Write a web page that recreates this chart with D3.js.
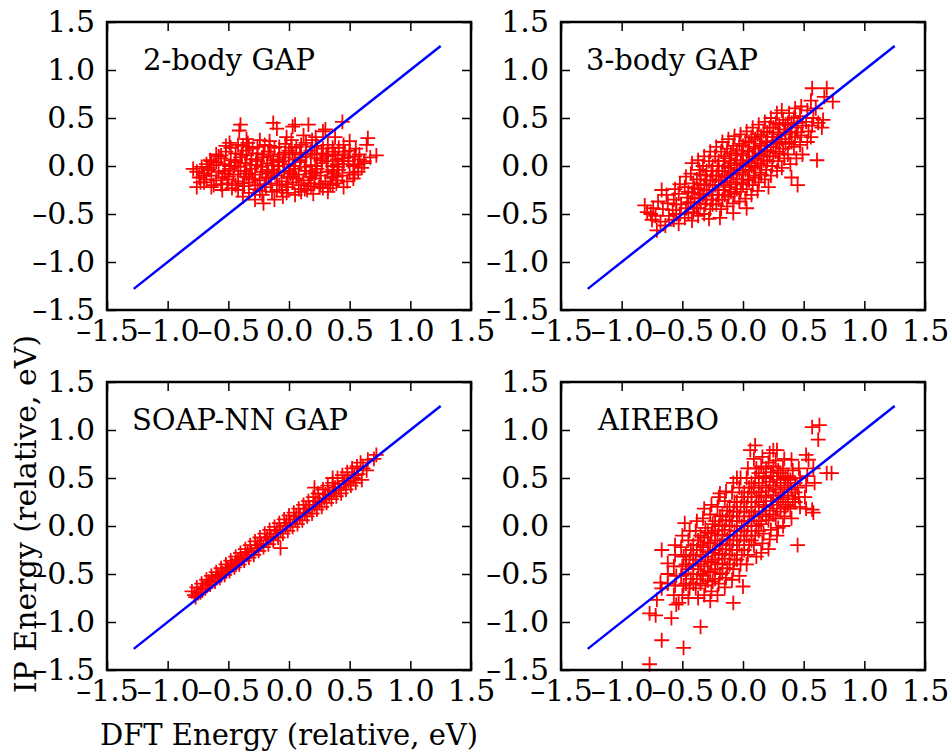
<!DOCTYPE html>
<html>
<head>
<meta charset="utf-8">
<script src="https://cdn.jsdelivr.net/npm/d3@7"></script>
<style>
  body { margin: 0; background: #fff; }
  text { font-family: 'DejaVu Serif', serif; fill: #000; }
</style>
</head>
<body>
<svg id="chart" width="949" height="751"></svg>
<script>
// values (DFT energy, IP energy), eV
const gap2Pts = [
  [-.40,.43],[-.41,.37],[-.13,.45],[.05,.43],[.16,.43],[.44,.46],[.30,.38],[-.10,.39],[.03,.41],[.28,.36],
  [.65,.29],[.72,.11],[.64,.22],[.57,-.06],[.60,-.02],[.55,.18],[.50,.26],[.62,.05],[.58,.12],
  [-.79,-.03],[-.73,-.17],[-.76,-.22],[-.65,.06],[-.70,-.10],[-.62,-.20],[-.68,.02],[-.58,.10],[-.55,-.25],
  [-.21,-.39],[-.05,-.32],[-.38,-.32],[.15,-.25],[.32,-.27],[.45,-.22],[-.28,-.35],[.05,-.30],[-.12,-.35],[.25,-.22],[.40,-.15],
  [-.49,.24],[-.24,.27],[-.42,.22],[-.35,.28],[.22,.30],[.12,.32],[-.02,.30],[.38,.30],[.45,.22],
  [-.48,.19],[-.38,.21],[-.30,.18],[-.20,.22],[-.12,.19],[-.03,.23],[.06,.20],[.14,.24],[.23,.21],[.32,.22],[.41,.19],[.50,.16],
  [-.60,.12],[-.52,.15],[-.44,.13],[-.35,.16],[-.26,.13],[-.17,.15],[-.08,.12],[0,.16],[.09,.14],[.18,.16],[.27,.13],[.36,.15],[.45,.12],[.54,.10],
  [-.64,.05],[-.56,.08],[-.48,.06],[-.40,.09],[-.31,.07],[-.22,.09],[-.13,.06],[-.04,.09],[.05,.07],[.14,.10],[.23,.08],[.31,.10],[.40,.07],[.49,.05],[.58,.07],[.67,.09],
  [-.72,-.01],[-.62,.01],[-.53,.02],[-.45,0],[-.36,.03],[-.27,.01],[-.18,.03],[-.09,0],[0,.02],[.09,.04],[.18,.01],[.27,.03],[.36,0],[.45,.02],[.53,0],
  [-.76,-.06],[-.66,-.04],[-.58,-.06],[-.49,-.03],[-.40,-.05],[-.31,-.03],[-.22,-.06],[-.13,-.04],[-.04,-.06],[.05,-.03],[.14,-.05],[.23,-.03],[.32,-.06],[.41,-.04],[.50,-.07],
  [-.74,-.12],[-.64,-.10],[-.55,-.12],[-.46,-.09],[-.37,-.11],[-.28,-.09],[-.19,-.12],[-.10,-.10],[-.01,-.12],[.08,-.09],[.17,-.11],[.26,-.10],[.35,-.12],[.44,-.10],[.53,-.13],
  [-.70,-.17],[-.60,-.15],[-.51,-.18],[-.42,-.16],[-.33,-.17],[-.24,-.15],[-.15,-.18],[-.06,-.16],[.03,-.17],[.12,-.15],[.21,-.18],[.30,-.16],[.39,-.18],
  [-.64,-.22],[-.47,-.23],[-.37,-.21],[-.28,-.24],[-.19,-.22],[-.10,-.25],[-.01,-.22],[.08,-.24],[.18,-.21],[.28,-.23],[.36,-.20],
  [-.33,-.28],[-.22,-.30],[-.14,-.27],[-.02,-.28],[.10,-.27],[.20,-.29],
  [-.35,.11],[-.15,.10],[.03,.12],[.21,.12],[.38,.11],[-.42,-.01],[-.23,-.01],[-.05,.05],[.13,-.01],[.31,.05],
  [-.30,-.14],[-.12,-.07],[.06,-.13],[.22,-.07],[.40,.02],[-.50,-.14],[-.08,.20],[.28,.18],[.10,.22],[-.26,.20],
  [-.34,.24],[-.16,.26],[.02,.27],[.19,.27],[-.44,.04],[-.26,.05],[-.08,.04],[.10,.09],[.27,.08],[.44,.05],
  [-.53,-.08],[-.35,-.08],[-.17,-.08],[.01,-.08],[.19,-.08],[.37,-.08],[-.44,-.20],[-.26,-.20],[-.08,-.20],[.10,-.20],[.26,-.19],
  [-.56,.11],[-.39,.12],[-.21,.12],[-.03,.14],[.14,.13],[.32,.12],[.49,.09],
  [-.60,.04],[-.44,.06],[-.27,.07],[-.09,.07],[.09,.06],[.27,.06],[.45,.08],[.62,.03],
  [-.67,-.02],[-.49,0],[-.32,.01],[-.14,.01],[.04,0],[.22,0],[.40,-.01],[.57,.02],
  [-.70,-.08],[-.53,-.05],[-.36,-.05],[-.18,-.04],[0,-.05],[.18,-.05],[.36,-.04],[.54,-.09],
  [-.68,-.14],[-.50,-.11],[-.33,-.12],[-.15,-.13],[.03,-.11],[.21,-.13],[.39,-.11],[.48,-.16],
  [-.56,-.19],[-.38,-.18],[-.20,-.19],[-.02,-.19],[.16,-.18],[.34,-.19],
  [-.42,-.25],[-.24,-.26],[-.06,-.25],[.13,-.24],[.32,-.23],
  [-.52,.21],[-.33,.20],[-.16,.21],[.02,.19],[.19,.20],[.36,.19],[.46,.15]
];
const gap3Pts = [
  [-.81,-.41],[-.79,-.48],[-.75,-.56],[-.74,-.44],[-.76,-.50],[-.71,-.67],[-.70,-.37],[-.72,-.52],
  [-.67,-.25],[-.66,-.45],[-.68,-.58],[-.62,-.39],[-.63,-.30],[-.61,-.52],[-.64,-.62],
  [-.57,-.35],[-.58,-.46],[-.56,-.24],[-.57,-.56],[-.52,-.19],[-.53,-.29],[-.51,-.40],[-.52,-.50],[-.53,-.60],
  [-.47,-.11],[-.48,-.22],[-.46,-.33],[-.47,-.44],[-.48,-.54],
  [-.42,.03],[-.43,-.08],[-.41,-.18],[-.42,-.28],[-.43,-.38],[-.41,-.48],[-.42,-.57],
  [-.37,.06],[-.36,-.04],[-.38,-.14],[-.37,-.24],[-.36,-.34],[-.38,-.44],[-.37,-.52],
  [-.32,.10],[-.33,0],[-.31,-.10],[-.32,-.20],[-.33,-.30],[-.31,-.40],[-.32,-.50],
  [-.27,.15],[-.28,.05],[-.26,-.05],[-.27,-.15],[-.28,-.25],[-.26,-.35],[-.27,-.45],[-.28,-.55],
  [-.22,.20],[-.23,.10],[-.21,0],[-.22,-.10],[-.23,-.20],[-.21,-.30],[-.22,-.40],[-.19,-.54],
  [-.17,.25],[-.18,.15],[-.16,.05],[-.17,-.05],[-.18,-.15],[-.16,-.25],[-.17,-.35],[-.18,-.45],
  [-.12,.28],[-.13,.18],[-.11,.08],[-.12,-.02],[-.13,-.12],[-.11,-.22],[-.12,-.32],[-.13,-.42],
  [-.07,.31],[-.08,.21],[-.06,.11],[-.07,.01],[-.08,-.09],[-.06,-.19],[-.07,-.29],[-.08,-.39],[-.08,-.49],
  [-.02,.33],[-.03,.23],[-.01,.13],[-.02,.03],[-.03,-.07],[-.01,-.17],[-.02,-.27],[-.03,-.37],
  [.03,.36],[.02,.26],[.04,.16],[.03,.06],[.02,-.04],[.04,-.14],[.03,-.24],[.02,-.34],[.03,-.44],
  [.08,.40],[.07,.30],[.09,.20],[.08,.10],[.07,0],[.09,-.10],[.08,-.20],[.07,-.30],
  [.13,.43],[.12,.33],[.14,.23],[.13,.13],[.12,.03],[.14,-.07],[.13,-.17],[.12,-.26],
  [.18,.46],[.17,.36],[.19,.26],[.18,.16],[.17,.06],[.19,-.04],[.18,-.14],[.21,-.22],
  [.23,.50],[.22,.40],[.24,.30],[.23,.20],[.22,.10],[.24,0],[.23,-.10],
  [.28,.55],[.27,.45],[.29,.35],[.28,.25],[.27,.15],[.29,.05],[.28,-.05],
  [.32,.58],[.33,.48],[.34,.38],[.32,.28],[.33,.18],[.34,.08],[.32,-.02],
  [.38,.55],[.37,.45],[.39,.35],[.38,.25],[.37,.12],[.39,.02],[.40,-.12],
  [.43,.60],[.42,.50],[.44,.40],[.43,.30],[.42,.20],[.44,.08],[.45,-.20],
  [.48,.62],[.47,.52],[.49,.42],[.48,.32],[.47,.22],[.49,.12],
  [.53,.58],[.52,.46],[.54,.36],[.53,.25],
  [.57,.81],[.56,.68],[.58,.50],[.57,.42],[.56,.30],
  [.61,.06],[.62,.45],[.60,.60],[.66,.48],[.65,.40],[.67,.72],[.69,.81],[.74,.67],
  [-.55,-.40],[-.55,-.50],[-.45,-.27],[-.45,-.38],[-.45,-.49],[-.40,-.23],[-.40,-.33],[-.40,-.43],
  [-.35,-.09],[-.35,-.19],[-.35,-.29],[-.35,-.39],[-.30,-.05],[-.30,-.15],[-.30,-.25],[-.30,-.35],
  [-.25,0],[-.25,-.10],[-.25,-.20],[-.25,-.30],[-.25,-.40],[-.20,.05],[-.20,-.05],[-.20,-.15],[-.20,-.25],[-.20,-.35],
  [-.15,.10],[-.15,0],[-.15,-.10],[-.15,-.20],[-.15,-.30],[-.10,.13],[-.10,.03],[-.10,-.07],[-.10,-.17],[-.10,-.27],
  [-.05,.16],[-.05,.06],[-.05,-.04],[-.05,-.14],[-.05,-.24],[0,.21],[0,.11],[0,.01],[0,-.09],[0,-.19],
  [.05,.25],[.05,.15],[.05,.05],[.05,-.05],[.05,-.15],[.10,.28],[.10,.18],[.10,.08],[.10,-.02],[.10,-.12],
  [.15,.31],[.15,.21],[.15,.11],[.15,.01],[.15,-.09],[.20,.35],[.20,.25],[.20,.15],[.20,.05],
  [.25,.40],[.25,.30],[.25,.20],[.25,.10],[.30,.43],[.30,.33],[.30,.23],[.30,.13],
  [.35,.43],[.35,.33],[.35,.23],[.40,.45],[.40,.35],[.40,.25],[.45,.45],[.45,.35]
];
const soapPts = [
  [-.80,-.68],[-.78,-.72],[-.76,-.64],[-.75,-.70],[-.77,-.74],[-.72,-.60],[-.71,-.66],[-.73,-.69],
  [-.68,-.56],[-.67,-.61],[-.69,-.65],[-.64,-.52],[-.63,-.57],[-.65,-.61],[-.60,-.48],[-.59,-.53],[-.61,-.58],
  [-.56,-.44],[-.55,-.49],[-.57,-.54],[-.52,-.40],[-.51,-.45],[-.53,-.51],[-.48,-.36],[-.47,-.41],[-.49,-.47],
  [-.44,-.32],[-.43,-.38],[-.45,-.43],[-.40,-.28],[-.39,-.34],[-.41,-.40],[-.36,-.24],[-.35,-.30],[-.37,-.36],
  [-.32,-.20],[-.31,-.27],[-.33,-.33],[-.28,-.16],[-.27,-.23],[-.29,-.30],[-.24,-.12],[-.23,-.19],[-.25,-.26],
  [-.20,-.08],[-.19,-.15],[-.21,-.22],[-.16,-.04],[-.15,-.11],[-.17,-.19],[-.12,-.01],[-.11,-.08],[-.13,-.15],
  [-.08,.03],[-.07,-.04],[-.09,-.12],[-.07,-.23],[-.04,.07],[-.03,0],[-.05,-.08],
  [0,.11],[.01,.03],[-.01,-.05],[.04,.14],[.05,.07],[.03,-.01],[.08,.18],[.09,.10],[.07,.02],
  [.12,.22],[.13,.14],[.11,.06],[.16,.26],[.17,.18],[.15,.10],[.20,.30],[.21,.22],[.19,.13],[.21,.40],
  [.24,.34],[.25,.25],[.23,.17],[.28,.38],[.29,.29],[.27,.20],[.32,.42],[.33,.33],[.31,.24],
  [.36,.50],[.37,.37],[.35,.28],[.36,.45],[.40,.50],[.41,.40],[.39,.31],[.44,.53],[.45,.44],[.43,.34],
  [.48,.56],[.49,.47],[.47,.38],[.52,.60],[.53,.50],[.51,.42],[.56,.62],[.57,.54],[.55,.45],
  [.60,.48],[.61,.60],[.59,.66],[.65,.69],[.64,.58],[.72,.74],[.70,.70],
  [-.66,-.58],[-.58,-.51],[-.50,-.43],[-.42,-.35],[-.34,-.27],[-.26,-.20],[-.18,-.12],[-.10,-.05],
  [-.02,.03],[.06,.10],[.14,.18],[.22,.26],[.30,.33],[.38,.40],[.46,.47],[.54,.53]
];
const aireboPts = [
  [-.62,-.39],[-.62,-.50],[-.62,-.60],
  [-.56,-.20],[-.56,-.30],[-.57,-.42],[-.55,-.52],[-.56,-.62],[-.57,-.72],[-.55,-.82],
  [-.50,-.10],[-.51,-.22],[-.49,-.32],[-.50,-.42],[-.51,-.52],[-.49,-.62],[-.50,-.72],
  [-.44,-.05],[-.45,-.15],[-.43,-.25],[-.44,-.35],[-.45,-.45],[-.43,-.55],[-.44,-.65],[-.45,-.75],
  [-.38,.05],[-.39,-.05],[-.37,-.15],[-.38,-.25],[-.39,-.35],[-.37,-.45],[-.38,-.55],[-.39,-.65],[-.37,-.75],
  [-.32,.18],[-.33,.08],[-.31,-.02],[-.32,-.12],[-.33,-.22],[-.31,-.32],[-.32,-.42],[-.33,-.52],[-.31,-.62],[-.32,-.72],
  [-.26,.22],[-.27,.12],[-.25,.02],[-.26,-.08],[-.27,-.18],[-.25,-.28],[-.26,-.38],[-.27,-.48],[-.25,-.58],[-.26,-.68],[-.27,-.78],
  [-.20,.30],[-.21,.20],[-.19,.10],[-.20,0],[-.21,-.10],[-.19,-.20],[-.20,-.30],[-.21,-.40],[-.19,-.50],[-.20,-.60],[-.21,-.72],
  [-.14,.36],[-.15,.26],[-.13,.16],[-.14,.06],[-.15,-.04],[-.13,-.14],[-.14,-.24],[-.15,-.34],[-.13,-.44],[-.14,-.54],[-.15,-.64],
  [-.08,.45],[-.09,.35],[-.07,.25],[-.08,.15],[-.09,.05],[-.07,-.05],[-.08,-.15],[-.09,-.25],[-.07,-.35],[-.08,-.45],[-.09,-.56],
  [-.02,.50],[-.03,.40],[-.01,.30],[-.02,.20],[-.03,.10],[-.01,0],[-.02,-.10],[-.03,-.20],[-.01,-.30],[-.02,-.40],[-.03,-.52],
  [.04,.60],[.03,.50],[.05,.40],[.04,.30],[.03,.20],[.05,.10],[.04,0],[.03,-.10],[.05,-.20],[.04,-.30],[.03,-.40],
  [.10,.84],[.09,.70],[.11,.60],[.10,.50],[.09,.40],[.11,.30],[.10,.20],[.09,.10],[.11,0],[.10,-.10],[.09,-.20],[.11,-.32],
  [.16,.72],[.15,.62],[.17,.52],[.16,.42],[.15,.32],[.17,.22],[.16,.12],[.15,.02],[.17,-.08],[.16,-.18],[.15,-.28],
  [.22,.76],[.21,.66],[.23,.56],[.22,.46],[.21,.36],[.23,.26],[.22,.16],[.21,.06],[.23,-.04],[.22,-.14],[.21,-.24],
  [.28,.79],[.27,.68],[.29,.58],[.28,.48],[.27,.38],[.29,.28],[.28,.18],[.27,.08],[.29,-.02],[.28,-.10],
  [.34,.70],[.33,.60],[.35,.50],[.34,.40],[.33,.30],[.35,.20],[.34,.10],[.33,0],
  [.40,.69],[.41,.58],[.39,.48],[.40,.38],[.41,.28],[.39,.18],[.40,.08],
  [.46,.60],[.47,.50],[.45,.40],[.46,.30],[.47,.20],
  [.52,.74],[.54,.69],[.53,.52],[.52,.42],[.51,.30],[.52,.18],
  [.58,.60],[.59,.45],[.57,.17],[.58,.14],
  [.57,1.03],[.63,1.05],[.62,.90],[.69,.55],[.73,.55],[.45,-.20],[-.48,.03],[-.67,-.25],
  [-.77,-.91],[-.72,-.93],[-.59,-.96],[-.67,-1.19],[-.49,-1.27],[-.35,-1.05],[-.77,-1.44],
  [-.08,-.80],[0,-.63],[-.67,-.65],[-.71,-.77],[-.53,-.80],[-.68,-.59],[-.19,.34],[-.05,.50],[.06,.79],[.25,.79],
  [-.47,-.30],[-.47,-.40],[-.47,-.50],[-.47,-.60],[-.41,-.20],[-.41,-.30],[-.41,-.40],[-.41,-.50],[-.41,-.60],
  [-.35,-.10],[-.35,-.20],[-.35,-.30],[-.35,-.40],[-.35,-.50],[-.35,-.60],
  [-.29,-.07],[-.29,-.17],[-.29,-.27],[-.29,-.37],[-.29,-.47],[-.29,-.57],
  [-.23,.05],[-.23,-.05],[-.23,-.15],[-.23,-.25],[-.23,-.35],[-.23,-.45],[-.23,-.55],
  [-.17,.11],[-.17,.01],[-.17,-.09],[-.17,-.19],[-.17,-.29],[-.17,-.39],[-.17,-.49],
  [-.11,.20],[-.11,.10],[-.11,0],[-.11,-.10],[-.11,-.20],[-.11,-.30],[-.11,-.40],
  [-.05,.25],[-.05,.15],[-.05,.05],[-.05,-.05],[-.05,-.15],[-.05,-.25],[-.05,-.35],
  [.01,.35],[.01,.25],[.01,.15],[.01,.05],[.01,-.05],[.01,-.15],[.01,-.25],
  [.07,.45],[.07,.35],[.07,.25],[.07,.15],[.07,.05],[.07,-.05],[.07,-.15],
  [.13,.55],[.13,.45],[.13,.35],[.13,.25],[.13,.15],[.13,.05],[.13,-.05],
  [.19,.60],[.19,.50],[.19,.40],[.19,.30],[.19,.20],[.19,.10],
  [.25,.62],[.25,.52],[.25,.42],[.25,.32],[.25,.22],[.25,.12],
  [.31,.55],[.31,.45],[.31,.35],[.31,.25],[.31,.15],[.37,.52],[.37,.42],[.37,.32],[.37,.22],
  [.43,.45],[.43,.35],[.43,.25]
];
const panelTitles = ['2-body GAP', '3-body GAP', 'SOAP-NN GAP', 'AIREBO'];
const panelData = [gap2Pts, gap3Pts, soapPts, aireboPts];
const tickVals = [-1.5, -1, -0.5, 0, 0.5, 1, 1.5];
const parityRange = [-1.28, 1.25];

const svg = d3.select('#chart');
const W = 364, H = 288;
const panels = [
  { left: 107, top: 22, titleDx: 36 },
  { left: 561, top: 22, titleDx: 25 },
  { left: 107, top: 382, titleDx: 25 },
  { left: 561, top: 382, titleDx: 37 }
];
const fmt = v => d3.format('.1f')(v).replace('\u2212', '\u2013');
const cross = 'M-7.4,0H7.4M0,-7.4V7.4';

panels.forEach((p, i) => {
  const x = d3.scaleLinear().domain([-1.5, 1.5]).range([0, W]);
  const y = d3.scaleLinear().domain([-1.5, 1.5]).range([H, 0]);
  const g = svg.append('g').attr('transform', `translate(${p.left},${p.top})`);

  // markers
  g.append('g').selectAll('path')
    .data(panelData[i])
    .join('path')
    .attr('transform', d => `translate(${x(d[0])},${y(d[1])})`)
    .attr('d', cross)
    .attr('fill', 'none')
    .attr('stroke', '#ff0000')
    .attr('stroke-width', 1.8);

  // y = x line
  g.append('path')
    .datum(parityRange)
    .attr('d', d3.line().x(d => x(d)).y(d => y(d)))
    .attr('fill', 'none')
    .attr('stroke', '#0000ff')
    .attr('stroke-width', 2.5);

  // Axes, ticks pointing inward on all sides
  const styleAxis = sel => {
    sel.select('.domain').remove();
    sel.selectAll('.tick line').attr('stroke', '#000').attr('stroke-width', 1.5);
    sel.selectAll('.tick text').style('font-family', "'DejaVu Serif', serif").style('font-size', '30px').attr('fill', '#000');
  };
  g.append('g').attr('transform', `translate(0,${H})`)
    .call(d3.axisBottom(x).tickValues(tickVals).tickFormat(fmt).tickSize(-9).tickPadding(10))
    .call(styleAxis);
  g.append('g')
    .call(d3.axisLeft(y).tickValues(tickVals).tickFormat(fmt).tickSize(-9).tickPadding(12))
    .call(styleAxis);
  g.append('g')
    .call(d3.axisTop(x).tickValues(tickVals).tickFormat('').tickSize(-9))
    .call(styleAxis);
  g.append('g').attr('transform', `translate(${W},0)`)
    .call(d3.axisRight(y).tickValues(tickVals).tickFormat('').tickSize(-9))
    .call(styleAxis);

  g.append('rect')
    .attr('width', W).attr('height', H)
    .attr('fill', 'none').attr('stroke', '#000').attr('stroke-width', 2.5);

  g.append('text')
    .attr('x', p.titleDx).attr('y', 48)
    .style('font-size', '29px')
    .text(panelTitles[i]);
});

// Labels
svg.append('text')
  .attr('x', 289).attr('y', 745)
  .attr('text-anchor', 'middle')
  .style('font-size', '29px')
  .text('DFT Energy (relative, eV)');
svg.append('text')
  .attr('transform', 'translate(36,514) rotate(-90)')
  .attr('text-anchor', 'middle')
  .style('font-size', '30px')
  .text('IP Energy (relative, eV)');
</script>
</body>
</html>
